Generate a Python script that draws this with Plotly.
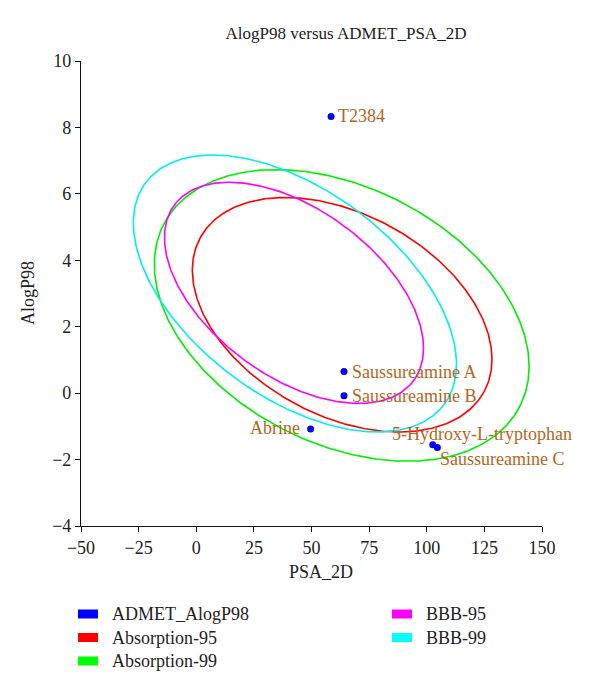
import numpy as np
import plotly.graph_objects as go

# ---------------- data ----------------
compound_names = ["T2384", "Saussureamine A", "Saussureamine B", "Abrine",
                  "5-Hydroxy-L-tryptophan", "Saussureamine C"]
psa_2d = [58.5, 64.1, 64.1, 49.6, 102.6, 104.6]
alogp98 = [8.33, 0.65, -0.08, -1.08, -1.55, -1.64]

# ellipses: name, centre x, centre y, half-width (x), half-height (y), correlation
ellipse_names = ["Absorption-95", "Absorption-99", "BBB-95", "BBB-99"]
ellipse_cx = [63.3, 63.1, 42.4, 42.8]
ellipse_cy = [2.36, 2.34, 3.02, 3.00]
ellipse_xr = [65.0, 81.3, 56.2, 70.1]
ellipse_yr = [3.53, 4.39, 3.33, 4.17]
ellipse_rho = [-0.38, -0.35, -0.50, -0.51]

x_ticks = [-50, -25, 0, 25, 50, 75, 100, 125, 150]
y_ticks = [-4, -2, 0, 2, 4, 6, 8, 10]

# ---------------- styles ----------------
FONT = "Liberation Serif"
ellipse_colors = ["#FF0000", "#00EE00", "#FF00FF", "#00EEEE"]
point_color = "#0000FF"
label_color = "#B4661E"
# label placement: (xanchor, xshift, yshift)
label_place = [("left", 5, 0), ("left", 6, 0), ("left", 6, 0), ("right", -9, 1),
               ("left", -43, 11), ("left", 1, -11)]

W, H = 600, 694
OFF = 8  # page body margin
ML, MT = 81 - OFF, 61 - OFF
PW, PH = 461, 465
MR, MB = W - ML - PW, H - MT - PH


def px_to_paper(px, py):
    return (px - OFF - ML) / PW, (MT + PH - (py - OFF)) / PH


fig = go.Figure()

t = np.linspace(0, 2 * np.pi, 400)
order = [1, 0, 3, 2]
for i in order:
    phi = np.arccos(ellipse_rho[i])
    ex = ellipse_cx[i] + ellipse_xr[i] * np.cos(t)
    ey = ellipse_cy[i] + ellipse_yr[i] * np.cos(t + phi)
    fig.add_trace(go.Scatter(x=ex, y=ey, mode="lines", name=ellipse_names[i],
                             line=dict(color=ellipse_colors[i], width=1.6),
                             showlegend=False, hoverinfo="skip"))

fig.add_trace(go.Scatter(x=psa_2d, y=alogp98, mode="markers", name="ADMET_AlogP98",
                         marker=dict(color=point_color, size=7), showlegend=False))

annotations = []
for name, xv, yv, (anc, xs, ys) in zip(compound_names, psa_2d, alogp98, label_place):
    annotations.append(dict(x=xv, y=yv, xref="x", yref="y", text=name, showarrow=False,
                            xanchor=anc, yanchor="middle", xshift=xs, yshift=ys,
                            font=dict(family=FONT, size=18, color=label_color)))

# axis titles
ax, ay = px_to_paper(321, 572)
annotations.append(dict(x=ax, y=ay, xref="paper", yref="paper", text="PSA_2D",
                        showarrow=False, xanchor="center", yanchor="middle",
                        font=dict(family=FONT, size=18, color="#222")))
ax, ay = px_to_paper(28, 293)
annotations.append(dict(x=ax, y=ay, xref="paper", yref="paper", text="AlogP98",
                        showarrow=False, textangle=-90, xanchor="center", yanchor="middle",
                        font=dict(family=FONT, size=18, color="#222")))

# manual legend (two columns)
legend_names = ["ADMET_AlogP98", "Absorption-95", "Absorption-99", "BBB-95", "BBB-99"]
legend_colors = [point_color, "#FF0000", "#00FF00", "#FF00FF", "#00FFFF"]
legend_pos = [(78, 614), (78, 637.5), (78, 661), (392, 614), (392, 637.5)]
shapes = []
for name, col, (lx, ly) in zip(legend_names, legend_colors, legend_pos):
    x0, y0 = px_to_paper(lx, ly + 4.5)
    x1, y1 = px_to_paper(lx + 20, ly - 4.5)
    shapes.append(dict(type="rect", xref="paper", yref="paper", x0=x0, y0=y0, x1=x1, y1=y1,
                       fillcolor=col, line=dict(width=0)))
    tx, ty = px_to_paper(lx + 32, ly)
    annotations.append(dict(x=tx, y=ty, xref="paper", yref="paper", text=name,
                            showarrow=False, xanchor="left", yanchor="middle",
                            font=dict(family=FONT, size=18, color="#222")))

axis_common = dict(showgrid=False, zeroline=False, showline=True, linecolor="#111",
                   linewidth=1.2, ticks="outside", ticklen=5, tickwidth=1.2,
                   tickcolor="#111", tickfont=dict(family=FONT, size=18, color="#222"))

fig.update_layout(
    width=W, height=H,
    margin=dict(l=ML, r=MR, t=MT, b=MB),
    paper_bgcolor="white", plot_bgcolor="white",
    title=dict(text="AlogP98 versus ADMET_PSA_2D", x=(346 - OFF) / W, xref="container",
               xanchor="center", y=1 - (33 - OFF) / H, yref="container", yanchor="middle",
               font=dict(family=FONT, size=17, color="#222")),
    xaxis=dict(range=[-50, 150], tickvals=x_ticks, **axis_common),
    yaxis=dict(range=[-4, 10], tickvals=y_ticks, **axis_common),
    annotations=annotations, shapes=shapes, showlegend=False,
)

fig.write_html("out.html")
